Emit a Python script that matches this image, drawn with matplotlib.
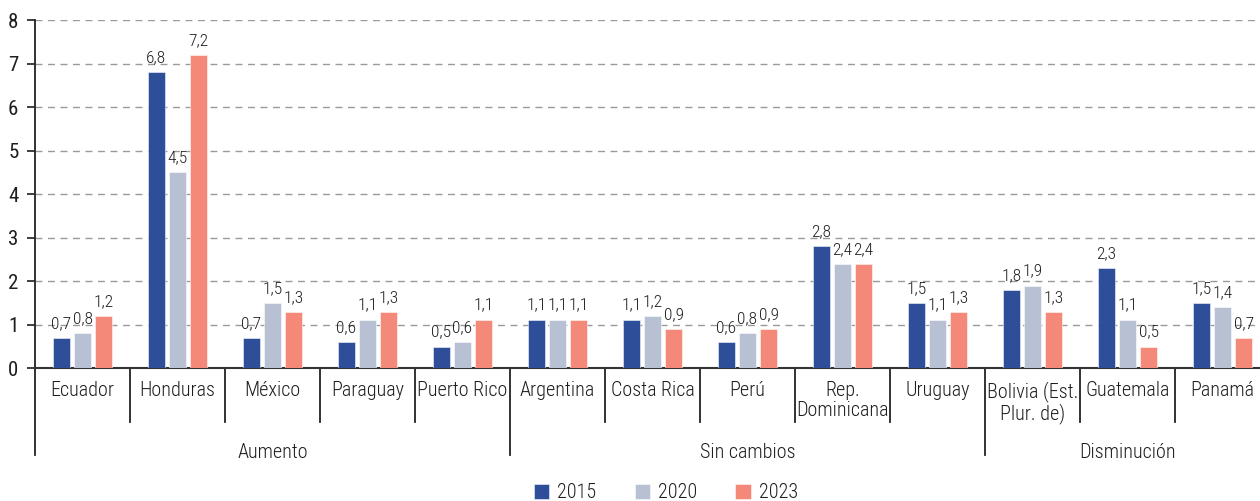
import matplotlib
matplotlib.use("Agg")
import matplotlib.pyplot as plt
import matplotlib.transforms as mtransforms
from matplotlib import font_manager
import numpy as np

_avail = set(font_manager.get_font_names())
_cands = ['Roboto Condensed', 'Barlow Semi Condensed', 'Encode Sans Condensed', 'Asap Condensed']
_font = [f for f in _cands if f in _avail][:1] + ['DejaVu Sans']
plt.rcParams['font.family'] = _font
plt.rcParams['font.weight'] = 'light'

categories = ["Ecuador", "Honduras", "México", "Paraguay", "Puerto Rico",
              "Argentina", "Costa Rica", "Perú", "Rep.\nDominicana", "Uruguay",
              "Bolivia (Est.\nPlur. de)", "Guatemala", "Panamá"]
groups = ["Aumento", "Sin cambios", "Disminución"]
group_sizes = [5, 5, 3]
years = ["2015", "2020", "2023"]
v2015 = [0.7, 6.8, 0.7, 0.6, 0.5, 1.1, 1.1, 0.6, 2.8, 1.5, 1.8, 2.3, 1.5]
v2020 = [0.8, 4.5, 1.5, 1.1, 0.6, 1.1, 1.2, 0.8, 2.4, 1.1, 1.9, 1.1, 1.4]
v2023 = [1.2, 7.2, 1.3, 1.3, 1.1, 1.1, 0.9, 0.9, 2.4, 1.3, 1.3, 0.5, 0.7]
colors = ["#2E4E9A", "#B8C1D3", "#F4897A"]

W, H = 1260, 501
fig = plt.figure(figsize=(W / 100, H / 100), dpi=100)
ax_left = 35 / W
ax_right = 1270 / W
ax_bottom = 1 - 368.3 / H
ax_height = 348.3 / H
ax = fig.add_axes([ax_left, ax_bottom, ax_right - ax_left, ax_height])

x = np.arange(len(categories))
offset = 0.222
width = 0.172
txtc = "#1e1e1e"
for i, (vals, col, yr) in enumerate(zip([v2015, v2020, v2023], colors, years)):
    bars = ax.bar(x + (i - 1) * offset, vals, width=width, color=col, label=yr, zorder=3,
                  edgecolor=(1, 1, 1, 0.6), linewidth=0.6)
    ax.bar_label(bars, labels=[f"{v:.1f}".replace(".", ",") for v in vals],
                 padding=5, fontsize=12.5, color=txtc)

ax.set_xlim(-0.5, len(categories) - 0.5)
ax.set_ylim(0, 8)
ax.set_yticks(range(0, 9))
ax.tick_params(axis='y', length=6, width=1.2, pad=6, labelsize=15, colors=txtc, direction='out')
for t in ax.get_yticklabels():
    t.set_fontweight('normal')
ax.set_xticks(x)
ax.set_xticklabels(categories, fontsize=14.5, color=txtc, linespacing=1.1)
ax.tick_params(axis='x', length=0, pad=9)

ax.set_axisbelow(True)
ax.yaxis.grid(True, linestyle=(0, (5, 4)), color="#9a9a9a", linewidth=1.0)
for s in ["top", "right"]:
    ax.spines[s].set_visible(False)
ax.spines["left"].set_color("#222222")
ax.spines["left"].set_linewidth(1.3)
ax.spines["bottom"].set_color("#333333")
ax.spines["bottom"].set_linewidth(1.5)

trans = mtransforms.blended_transform_factory(ax.transData, ax.transAxes)
bounds = np.cumsum([0] + group_sizes) - 0.5
for b in np.arange(-0.5, len(categories), 1.0):
    if np.any(np.isclose(b, bounds)):
        y0 = -0.248
    else:
        y0 = -0.154
    ax.plot([b, b], [0, y0], transform=trans, color="#222222", lw=1.3, clip_on=False)

start = 0
for g, n in zip(groups, group_sizes):
    cx = start + n / 2 - 0.5
    ax.text(cx, -0.242, g, transform=trans, ha='center', va='center', fontsize=14.5, color=txtc)
    start += n

fig.legend(loc='center', bbox_to_anchor=(666 / W, 1 - 493 / H), ncol=3, frameon=False,
           fontsize=14.5, handlelength=0.75, handleheight=0.75, handletextpad=0.4,
           columnspacing=1.9, labelcolor=txtc)

fig.savefig("out.png", dpi=100)
